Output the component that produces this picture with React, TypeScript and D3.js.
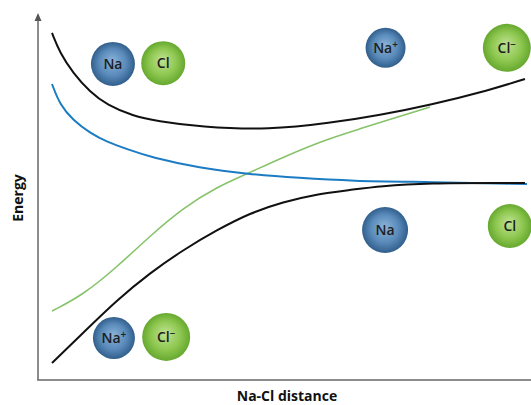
import React from "react";
import * as d3 from "d3";

// distance units (0-100) and energy units (0-100)
const upperBlackX = [2.84, 4.46, 7.1, 10.55, 14.0, 19.27, 24.14, 32.86, 47.06, 59.23, 69.37, 79.51, 91.68, 98.78];
const upperBlackY = [95.07, 89.59, 84.11, 78.9, 75.34, 72.33, 70.96, 69.32, 68.49, 70.41, 72.6, 75.34, 79.45, 82.47];
const blueX = [2.84, 4.46, 7.1, 10.55, 14.0, 18.66, 22.72, 32.86, 42.39, 53.14, 63.29, 79.51, 99.19];
const blueY = [81.1, 75.34, 71.23, 67.67, 65.21, 63.01, 61.1, 58.08, 56.44, 55.34, 54.52, 54.25, 53.7];
const greenX = [2.84, 9.13, 16.02, 22.72, 29.41, 36.31, 42.39, 49.7, 59.23, 65.92, 72.82, 79.51];
const greenY = [18.9, 23.29, 30.96, 39.45, 47.12, 52.88, 56.44, 61.1, 66.3, 69.04, 72.05, 74.79];
const lowerBlackX = [2.84, 9.13, 16.02, 22.72, 29.41, 36.31, 43.0, 49.7, 56.59, 63.29, 69.37, 79.51, 93.1, 98.78];
const lowerBlackY = [4.66, 12.88, 21.92, 29.32, 35.62, 41.1, 45.75, 48.77, 50.96, 52.05, 53.15, 53.97, 53.97, 53.97];

const atomLabels = ["Na", "Cl", "Na", "Cl", "Na", "Cl", "Na", "Cl"];
const atomCharges = ["", "", "+", "−", "", "", "+", "−"];
const atomKinds = ["na", "cl", "na", "cl", "na", "cl", "na", "cl"];
const atomX = [15.2, 25.4, 70.5, 95.1, 70.4, 95.7, 15.4, 26.0];
const atomY = [86.6, 86.8, 91.0, 91.0, 41.1, 42.2, 11.5, 11.8];
const atomR = [22, 22, 20, 24, 23, 22, 21, 24];

const W = 531;
const H = 405;
const x = d3.scaleLinear().domain([0, 100]).range([38, 531]);
const y = d3.scaleLinear().domain([0, 100]).range([380, 15]);

function zip(xs: number[], ys: number[]): [number, number][] {
  return xs.map((v, i) => [v, ys[i]]);
}

const line = d3
  .line<[number, number]>()
  .x((d) => x(d[0]))
  .y((d) => y(d[1]))
  .curve(d3.curveBasis);

export default function App() {
  const font = "'Open Sans', 'DejaVu Sans', sans-serif";
  return (
    <svg width={W} height={H} style={{ position: "absolute", left: 0, top: 0, background: "#fff" }}>
      <defs>
        <radialGradient id="gNa" cx="50%" cy="50%" r="50%" fx="48%" fy="42%">
          <stop offset="0%" stopColor="#8ab3d8" />
          <stop offset="60%" stopColor="#5a8bbb" />
          <stop offset="100%" stopColor="#315f8c" />
        </radialGradient>
        <radialGradient id="gCl" cx="50%" cy="50%" r="50%" fx="48%" fy="42%">
          <stop offset="0%" stopColor="#bfe294" />
          <stop offset="60%" stopColor="#8fc851" />
          <stop offset="100%" stopColor="#66a82f" />
        </radialGradient>
      </defs>
      {/* axes */}
      <line x1={x(0)} y1={y(0)} x2={x(0)} y2={17} stroke="#666" strokeWidth={1.5} />
      <path d={`M${x(0) - 3.5},${21} L${x(0)},${13} L${x(0) + 3.5},${21} Z`} fill="#555" />
      <line x1={x(0) - 0.75} y1={y(0)} x2={x(100)} y2={y(0)} stroke="#666" strokeWidth={1.5} />

      {/* curves */}
      <path d={line(zip(greenX, greenY)) || ""} fill="none" stroke="#86c36a" strokeWidth={1.6} />
      <path d={line(zip(blueX, blueY)) || ""} fill="none" stroke="#1c7cc3" strokeWidth={2} />
      <path d={line(zip(upperBlackX, upperBlackY)) || ""} fill="none" stroke="#111" strokeWidth={2} />
      <path d={line(zip(lowerBlackX, lowerBlackY)) || ""} fill="none" stroke="#111" strokeWidth={2} />

      {/* atoms */}
      {atomLabels.map((lab, i) => (
        <g key={i} transform={`translate(${x(atomX[i])},${y(atomY[i])})`}>
          <circle r={atomR[i]} fill={atomKinds[i] === "na" ? "url(#gNa)" : "url(#gCl)"} />
          <text textAnchor="middle" y={5} fontFamily={font} fontSize={14} fontWeight={600} fill="#1e1e1e">
            {lab}
            {atomCharges[i] && (
              <tspan fontSize={10} dy={-5}>{atomCharges[i]}</tspan>
            )}
          </text>
        </g>
      ))}

      {/* axis labels */}
      <text transform={`translate(23,198) rotate(-90)`} textAnchor="middle" fontFamily={font} fontSize={14} fontWeight={700} fill="#111">
        Energy
      </text>
      <text x={287} y={401} textAnchor="middle" fontFamily={font} fontSize={14} fontWeight={700} fill="#111">
        Na-Cl distance
      </text>
    </svg>
  );
}
